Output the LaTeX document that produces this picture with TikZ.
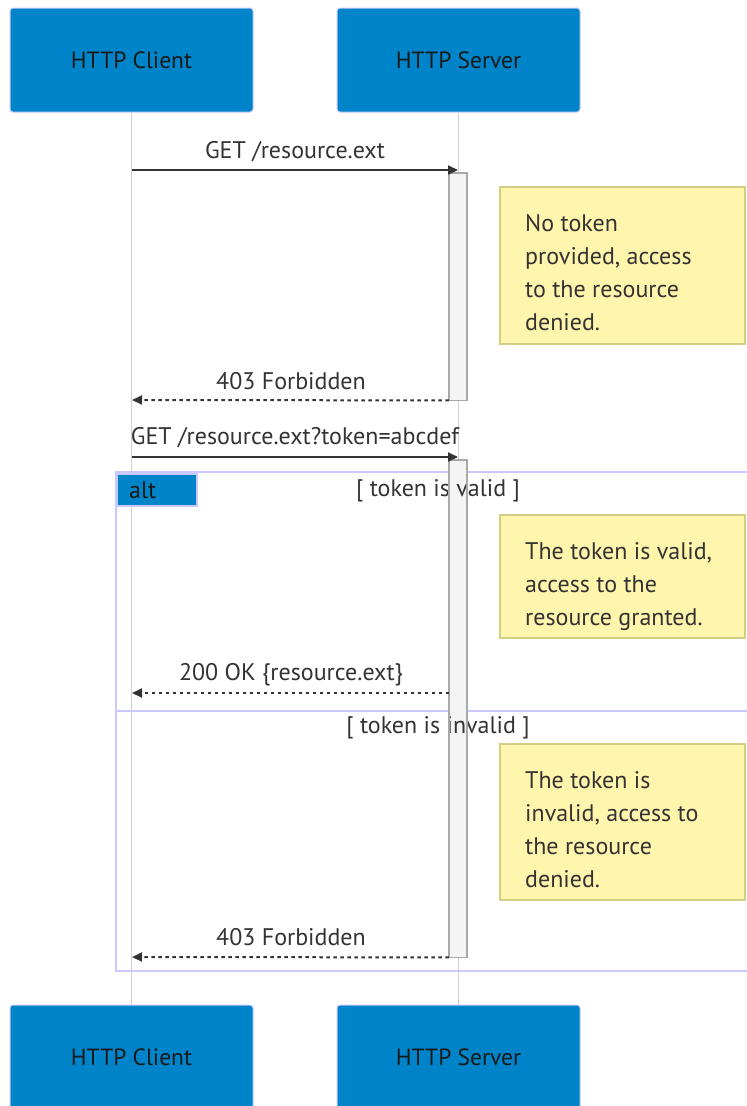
\documentclass[tikz,border=0pt]{standalone}
\usepackage{fontspec}
\setmainfont{PT Sans}
\usetikzlibrary{arrows.meta}
\definecolor{actorblue}{HTML}{0084C9}
\definecolor{actorline}{HTML}{C9C9FF}
\definecolor{lifegray}{HTML}{D0D0D0}
\definecolor{actfill}{HTML}{F4F4F4}
\definecolor{actline}{HTML}{A8A8A8}
\definecolor{notefill}{HTML}{FFF5AD}
\definecolor{noteline}{HTML}{D2CF85}
\definecolor{framecol}{HTML}{C9C9FF}
\definecolor{msgcol}{HTML}{333333}
\tikzset{
  txt/.style={font=\fontsize{24}{33}\selectfont, text=msgcol, inner sep=0pt},
  actor/.style={draw=actorline, line width=1pt, fill=actorblue, rounded corners=3pt,
    minimum width=243pt, minimum height=104pt, inner sep=0pt,
    font=\fontsize{23.5}{28}\selectfont, text=black!90},
  lifeline/.style={draw=lifegray, line width=1.6pt},
  actbar/.style={fill=actfill, minimum width=18pt, inner sep=0pt},
  actedge/.style={draw=actline, line width=1.6pt},
  notebox/.style={draw=noteline, fill=notefill, line width=1.6pt, inner sep=0pt,
    minimum width=245pt},
  notetxt/.style={txt, align=left, text=msgcol},
  syncmsg/.style={draw=msgcol, line width=2pt, -{Triangle[length=10pt,width=9pt]}},
  replymsg/.style={draw=msgcol, line width=2pt, dash pattern=on 3.5pt off 3.5pt,
    -{Triangle[length=10pt,width=9pt]}},
  frameline/.style={draw=framecol, line width=2pt},
}
\begin{document}
\begin{tikzpicture}[x=1pt,y=-1pt]
\useasboundingbox (0,0) rectangle (747,1106);
\begin{scope}
\clip (0,0) rectangle (747,1106);

% participants
\node[actor] (cTop) at (131.5,60) {HTTP Client};
\node[actor] (sTop) at (458.5,60) {HTTP Server};
\node[actor] (cBot) at (131.5,1057) {HTTP Client};
\node[actor] (sBot) at (458.5,1057) {HTTP Server};

% lifelines
\draw[lifeline] (cTop.south) -- (cBot.north);
\draw[lifeline] (sTop.south) -- (sBot.north);

% alt frame
\coordinate (frTL) at (116,472);
\coordinate (frBR) at (770,971);
\draw[frameline] (frTL) rectangle (frBR);
\coordinate (divL) at (116,711);
\coordinate (divR) at (770,711);
\draw[frameline] (divL) -- (divR);
\node[draw=framecol, line width=1.5pt, fill=actorblue, minimum width=80pt, minimum height=32pt,
  anchor=north west, inner sep=0pt] (altbox) at (116,473) {};
\node[txt, anchor=west, text=black!90] (altlbl) at (129,490) {alt};

% activation bars (fill first, outline after the overlapping labels)
\node[actbar, minimum height=227pt, anchor=north] (act1) at (458,173) {};
\node[actbar, minimum height=497pt, anchor=north] (act2) at (458,460) {};

\node[txt] (cond1) at (438,491) {[ token is valid ]};
\node[txt] (cond2) at (438,728) {[ token is invalid ]};

\draw[actedge] (act1.north west) rectangle (act1.south east);
\draw[actedge] (act2.north west) rectangle (act2.south east);

% message end points on the lifelines
\coordinate (c1) at (132,170);
\coordinate (c2) at (132,400);
\coordinate (c3) at (132,457);
\coordinate (c4) at (132,693);
\coordinate (c5) at (132,957);
\coordinate (s1) at (458,170);
\coordinate (s3) at (458,457);
\coordinate (r4) at (449,693);

% messages
\draw[syncmsg] (c1) -- (s1);
\node[txt] (m1) at (295,152) {GET /resource.ext};
\draw[replymsg] (act1.south west) -- (c2);
\node[txt] (m2) at (291,381) {403 Forbidden};
\draw[syncmsg] (c3) -- (s3);
\node[txt] (m3) at (295,438) {GET /resource.ext?token=abcdef};
\draw[replymsg] (r4) -- (c4);
\node[txt] (m4) at (291,675) {200 OK \{resource.ext\}};
\draw[replymsg] (act2.south west) -- (c5);
\node[txt] (m5) at (291,937) {403 Forbidden};

% notes
\node[notebox, minimum height=157pt, anchor=north west] (n1) at (499,186) {};
\node[notetxt, anchor=north west] (n1t) at (525,214) {No token\\provided, access\\to the resource\\denied.};
\node[notebox, minimum height=123pt, anchor=north west] (n2) at (499,514) {};
\node[notetxt, anchor=north west] (n2t) at (525,542) {The token is valid,\\access to the\\resource granted.};
\node[notebox, minimum height=156pt, anchor=north west] (n3) at (499,743) {};
\node[notetxt, anchor=north west] (n3t) at (525,771) {The token is\\invalid, access to\\the resource\\denied.};
\end{scope}
\end{tikzpicture}
\end{document}
